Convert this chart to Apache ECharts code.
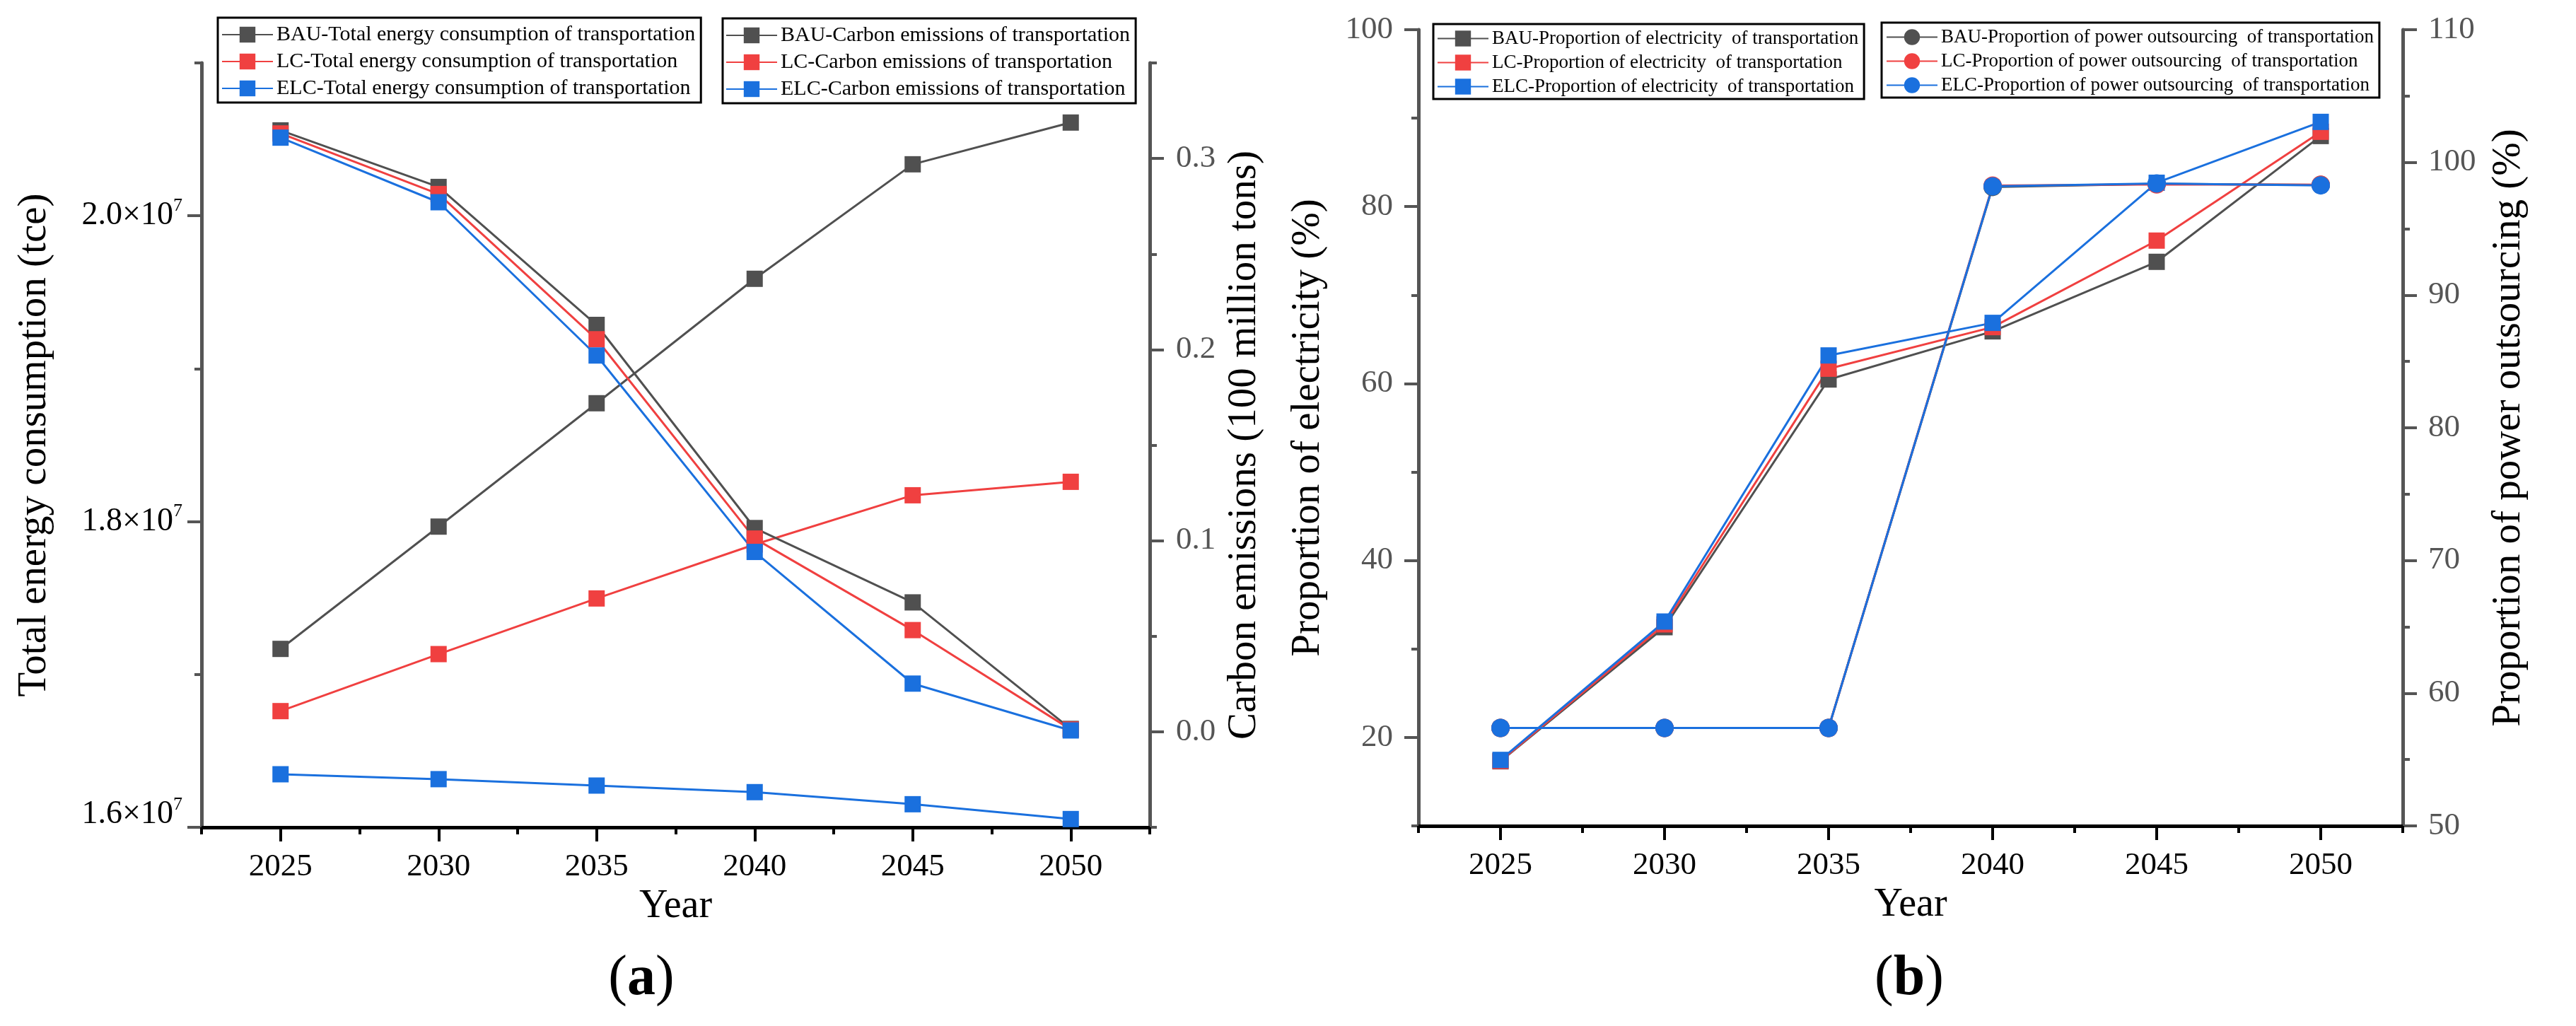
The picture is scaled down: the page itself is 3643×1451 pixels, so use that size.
<!DOCTYPE html>
<html>
<head>
<meta charset="utf-8">
<script src="https://cdn.jsdelivr.net/npm/echarts@6/dist/echarts.min.js"></script>
<style>
html, body { margin: 0; padding: 0; background: #fff; overflow: hidden; }
#main { width: 3643px; height: 1451px; }
</style>
</head>
<body>
<div id="main"></div>
<script>
// ---- data ----
var years = ['2025', '2030', '2035', '2040', '2045', '2050'];

// (a) total energy consumption, tce (left axis)
var energyBAU = [1.7167e7, 1.7967e7, 1.8774e7, 1.9588e7, 2.0337e7, 2.0610e7];
var energyLC  = [1.6760e7, 1.7133e7, 1.7497e7, 1.7850e7, 1.8172e7, 1.8260e7];
var energyELC = [1.6347e7, 1.6315e7, 1.6273e7, 1.6230e7, 1.6151e7, 1.6054e7];
// (a) carbon emissions, 100 million tons (right axis)
var carbonBAU = [0.3147, 0.2851, 0.2129, 0.1066, 0.0677, 0.0015];
var carbonLC  = [0.3131, 0.2814, 0.2054, 0.1011, 0.0532, 0.0012];
var carbonELC = [0.3109, 0.2771, 0.1969, 0.0941, 0.0252, 0.0007];

// (b) proportion of electricity, % (left axis)
var elecBAU = [17.30, 32.46, 60.46, 65.90, 73.76, 87.98];
var elecLC  = [17.34, 32.78, 61.68, 66.38, 76.16, 88.46];
var elecELC = [17.46, 33.10, 63.18, 66.86, 82.70, 89.58];
// (b) proportion of power outsourcing, % (right axis)
var outBAU = [57.38, 57.38, 57.38, 98.15, 98.38, 98.30];
var outLC  = [57.38, 57.38, 57.38, 98.25, 98.34, 98.32];
var outELC = [57.38, 57.38, 57.38, 98.20, 98.41, 98.27];

// tick labels
var energyTicks = [1.6e7, 1.8e7, 2.0e7];
var carbonTicks = [0, 0.1, 0.2, 0.3];
var elecTicks = [20, 40, 60, 80, 100];
var outTicks = [50, 60, 70, 80, 90, 100, 110];

var FONT = 'Liberation Serif';
var GRAY = '#505050', RED = '#F04040', BLUE = '#1A70DE';
var AXIS_GRAY = '#555555';

var myChart = echarts.init(document.getElementById('main'));

function xMajor(grid, nameGap) {
    return {
        type: 'category', gridIndex: grid, position: 'bottom',
        data: years, boundaryGap: true,
        axisLine: {show: true, onZero: false, lineStyle: {color: '#000', width: 5}},
        axisTick: {show: true, alignWithLabel: true, interval: 0, inside: false,
            length: 20, lineStyle: {color: '#000', width: 4}},
        axisLabel: {show: true, interval: 0, margin: 34, color: '#000',
            fontFamily: FONT, fontSize: 45},
        splitLine: {show: false},
        name: 'Year', nameLocation: 'middle', nameGap: nameGap,
        nameTextStyle: {color: '#000', fontFamily: FONT, fontSize: 56}
    };
}

function xMinor(grid) {
    return {
        type: 'category', gridIndex: grid, position: 'bottom',
        data: years, boundaryGap: true,
        axisLine: {show: false, onZero: false},
        axisTick: {show: true, alignWithLabel: false, interval: 0,
            length: 10, lineStyle: {color: '#000', width: 4}},
        axisLabel: {show: false},
        splitLine: {show: false}
    };
}

function yMajor(grid, pos, min, max, ticks, fmt, rich, labelColor, name, nameGap, margin) {
    return {
        type: 'value', gridIndex: grid, position: pos, min: min, max: max,
        axisLine: {show: true, onZero: false, lineStyle: {color: AXIS_GRAY, width: 5}},
        axisTick: {show: true, inside: false, length: 20, customValues: ticks,
            lineStyle: {color: AXIS_GRAY, width: 4}},
        axisLabel: {show: true, customValues: ticks, margin: margin, formatter: fmt,
            color: labelColor, fontFamily: FONT, fontSize: 45, rich: rich},
        splitLine: {show: false},
        name: name, nameLocation: 'middle', nameGap: nameGap,
        nameTextStyle: {color: '#000', fontFamily: FONT, fontSize: 57}
    };
}

function yMinor(grid, pos, min, max, step) {
    return {
        type: 'value', gridIndex: grid, position: pos, min: min, max: max, interval: step,
        axisLine: {show: false, onZero: false},
        axisTick: {show: true, inside: false, length: 10,
            lineStyle: {color: AXIS_GRAY, width: 4}},
        axisLabel: {show: false},
        splitLine: {show: false}
    };
}

// "2.0×10^7" style labels, the lowest one sits a bit higher as in the figure
var sciRich = {
    m: {fontFamily: FONT, fontSize: 46, color: '#000'},
    e: {fontFamily: FONT, fontSize: 26, color: '#000', padding: [0, 0, 28, 0]},
    m2: {fontFamily: FONT, fontSize: 46, color: '#000', padding: [0, 0, 36, 0]},
    e2: {fontFamily: FONT, fontSize: 26, color: '#000', padding: [0, 0, 64, 0]}
};
function sciFmt(v) {
    var s = (v / 1e7).toFixed(1) + '×10';
    if (v <= 1.6e7) {
        return '{m2|' + s + '}{e2|7}';
    }
    return '{m|' + s + '}{e|7}';
}

function lineSeries(name, xi, yi, data, color, symbol, size) {
    return {
        name: name, type: 'line', xAxisIndex: xi, yAxisIndex: yi, data: data,
        symbol: symbol, symbolSize: size, showSymbol: true,
        lineStyle: {color: color, width: 3},
        itemStyle: {color: color},
        emphasis: {disabled: true},
        animation: false
    };
}

function legendBox(names, left, top, fontSize, itemHeight, itemGap, padding) {
    return {
        data: names, orient: 'vertical', left: left, top: top,
        itemWidth: 72, itemHeight: itemHeight, itemGap: itemGap,
        padding: padding, borderColor: '#000', borderWidth: 3,
        selectedMode: false,
        textStyle: {fontFamily: FONT, fontSize: fontSize, color: '#000'}
    };
}

var nEnergy = ['BAU-Total energy consumption of transportation',
    'LC-Total energy consumption of transportation',
    'ELC-Total energy consumption of transportation'];
var nCarbon = ['BAU-Carbon emissions of transportation',
    'LC-Carbon emissions of transportation',
    'ELC-Carbon emissions of transportation'];
var nElec = ['BAU-Proportion of electricity  of transportation',
    'LC-Proportion of electricity  of transportation',
    'ELC-Proportion of electricity  of transportation'];
var nOut = ['BAU-Proportion of power outsourcing  of transportation',
    'LC-Proportion of power outsourcing  of transportation',
    'ELC-Proportion of power outsourcing  of transportation'];

option = {
    backgroundColor: '#fff',
    animation: false,
    grid: [
        {left: 285, top: 89, right: 2017, bottom: 281, containLabel: false, outerBoundsMode: 'none'},
        {left: 2006, top: 42, right: 245, bottom: 283, containLabel: false, outerBoundsMode: 'none'}
    ],
    xAxis: [xMajor(0, 68), xMinor(0), xMajor(1, 77), xMinor(1)],
    yAxis: [
        yMajor(0, 'left', 1.6e7, 2.1e7, energyTicks, sciFmt, sciRich, '#000',
            'Total energy consumption (tce)', 207, 27),
        yMinor(0, 'left', 1.6e7, 2.1e7, 1e6),
        yMajor(0, 'right', -0.05, 0.35, carbonTicks,
            function (v) { return v.toFixed(1); }, null, AXIS_GRAY,
            'Carbon emissions (100 million tons)', 106, 37),
        yMinor(0, 'right', -0.05, 0.35, 0.05),
        yMajor(1, 'left', 10, 100, elecTicks,
            function (v) { return String(Math.round(v)); }, null, AXIS_GRAY,
            'Proportion of electricity (%)', 127, 36),
        yMinor(1, 'left', 10, 100, 10),
        yMajor(1, 'right', 50, 110, outTicks,
            function (v) { return String(Math.round(v)); }, null, AXIS_GRAY,
            'Proportion of power outsourcing (%)', 122, 36),
        yMinor(1, 'right', 50, 110, 5)
    ],
    legend: [
        legendBox(nEnergy, 308, 25, 30, 28, 8, [9, 8, 5, 5]),
        legendBox(nCarbon, 1022, 26, 30, 28, 8, [9, 8, 5, 4]),
        legendBox(nElec, 2027, 34, 27, 28, 7, [7, 8, 4, 5]),
        legendBox(nOut, 2661, 32, 27, 28, 7, [7, 8, 4, 6])
    ],
    series: [
        lineSeries(nEnergy[0], 0, 0, energyBAU, GRAY, 'rect', 23),
        lineSeries(nEnergy[1], 0, 0, energyLC, RED, 'rect', 23),
        lineSeries(nEnergy[2], 0, 0, energyELC, BLUE, 'rect', 23),
        lineSeries(nCarbon[0], 0, 2, carbonBAU, GRAY, 'rect', 23),
        lineSeries(nCarbon[1], 0, 2, carbonLC, RED, 'rect', 23),
        lineSeries(nCarbon[2], 0, 2, carbonELC, BLUE, 'rect', 23),
        lineSeries(nElec[0], 2, 4, elecBAU, GRAY, 'rect', 23),
        lineSeries(nElec[1], 2, 4, elecLC, RED, 'rect', 23),
        lineSeries(nElec[2], 2, 4, elecELC, BLUE, 'rect', 23),
        lineSeries(nOut[0], 2, 6, outBAU, GRAY, 'circle', 26),
        lineSeries(nOut[1], 2, 6, outLC, RED, 'circle', 26),
        lineSeries(nOut[2], 2, 6, outELC, BLUE, 'circle', 26)
    ],
    graphic: [
        {type: 'text', x: 907, y: 1385, style: {
            text: '{p|(}{b|a}{p|)}', align: 'center', verticalAlign: 'middle',
            rich: {p: {fontFamily: FONT, fontSize: 80, fill: '#000'},
                   b: {fontFamily: FONT, fontSize: 80, fontWeight: 'bold', fill: '#000'}}}},
        {type: 'text', x: 2700, y: 1385, style: {
            text: '{p|(}{b|b}{p|)}', align: 'center', verticalAlign: 'middle',
            rich: {p: {fontFamily: FONT, fontSize: 80, fill: '#000'},
                   b: {fontFamily: FONT, fontSize: 80, fontWeight: 'bold', fill: '#000'}}}}
    ]
};

myChart.setOption(option);
</script>
</body>
</html>
